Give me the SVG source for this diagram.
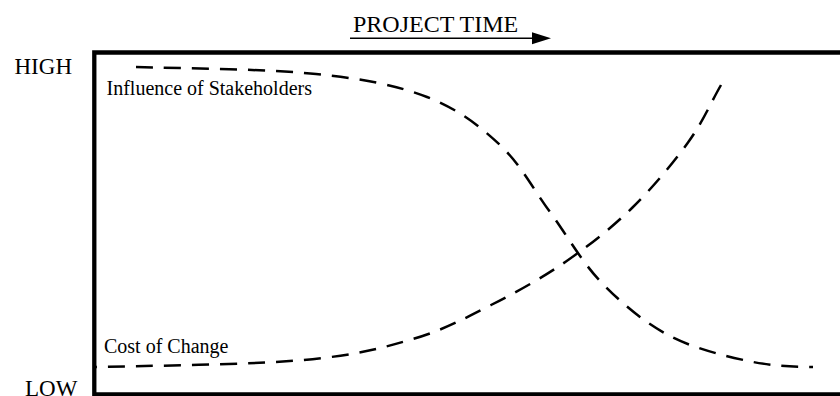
<svg xmlns="http://www.w3.org/2000/svg" width="840" height="396" viewBox="0 0 840 396">
  <style>
    .lbl { font-family: "Liberation Serif", "Times New Roman", serif; fill: #000; }
    .axis-lbl { font-size: 23px; }
    .curve-lbl { font-size: 20px; }
    .curve { fill: none; stroke: #000; stroke-width: 2.5; stroke-dasharray: 17 11; }
  </style>

  <rect width="840" height="396" fill="#fff"/>

  <!-- project time arrow -->
  <g id="time-axis">
    <text class="lbl" x="353" y="31.5" font-size="24">PROJECT TIME</text>
    <line x1="350" y1="38.3" x2="535" y2="38.3" stroke="#000" stroke-width="1.6"/>
    <polygon points="532,32.3 551,38.3 532,44.3" fill="#000"/>
  </g>

  <!-- chart frame (open on the right) -->
  <g id="frame">
    <path d="M 850,52.5 H 94.3 V 394.5 H 850" fill="none" stroke="#000" stroke-width="4.3"/>
  </g>

  <!-- level labels -->
  <g id="levels">
    <text class="lbl axis-lbl" x="14.5" y="74.3">HIGH</text>
    <text class="lbl axis-lbl" x="25" y="395.5">LOW</text>
  </g>

  <!-- influence of stakeholders: high early, falling later -->
  <g id="influence">
    <path class="curve" d="M 136,67
      C 181,68.2 267.5,69 316,74
      C 364.5,79 396.3,85.2 427,97
      C 457.7,108.8 479.5,125.8 500,145
      C 520.5,164.2 533.2,189.2 550,212
      C 566.8,234.8 581.3,261.5 601,282
      C 620.7,302.5 643.5,321.8 668,335
      C 692.5,348.2 723.8,355.7 748,361
      C 772.2,366 791.3,366.8 813,367"/>
    <text class="lbl curve-lbl" x="106.5" y="95">Influence of Stakeholders</text>
  </g>

  <!-- cost of change: low early, rising later (drawn from the top end down) -->
  <g id="cost">
    <path class="curve" d="M 721,85
      C 710,104.2 702.8,122 688,142.5
      C 673.2,163 652.3,188.2 632,208
      C 611.7,227.8 589.5,245.3 566,261.5
      C 542.5,277.7 516.5,292.1 491,305
      C 465.5,317.9 444.3,329.8 413,339
      C 381.7,348.2 355.8,355.3 303,360
      C 250.2,364.7 148.3,365.8 95,367"/>
    <text class="lbl curve-lbl" x="104" y="352.7">Cost of Change</text>
  </g>
</svg>
